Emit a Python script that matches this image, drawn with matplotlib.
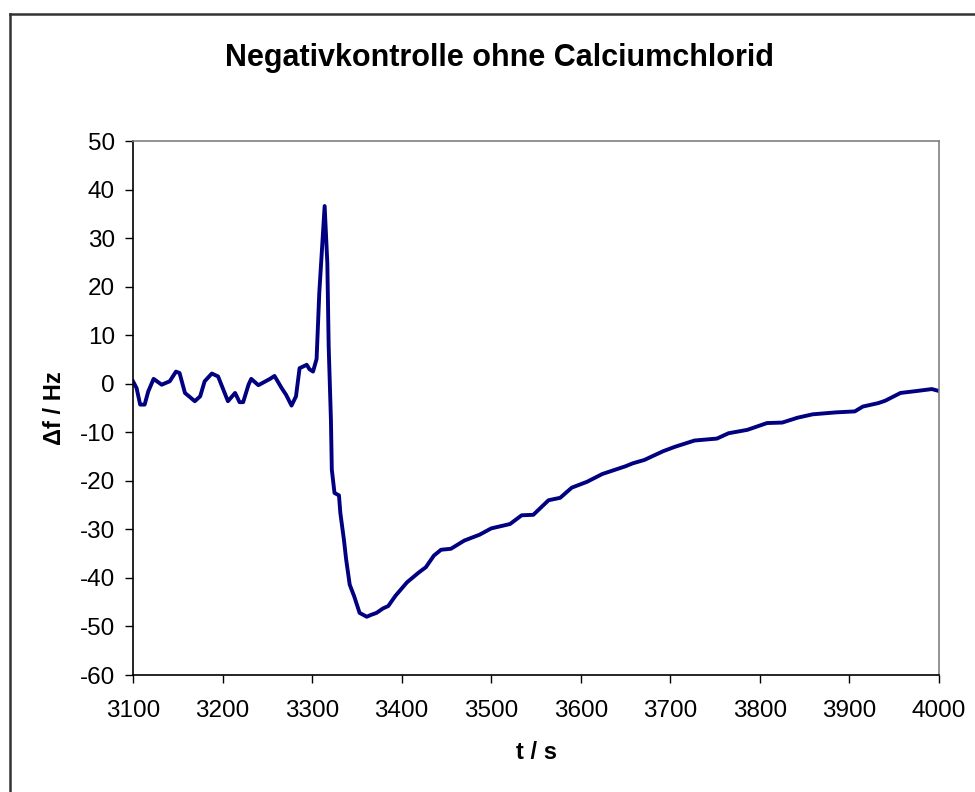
import matplotlib.pyplot as plt
from matplotlib.lines import Line2D

plt.rcParams['font.family'] = ['Liberation Sans', 'DejaVu Sans']
plt.rcParams['axes.unicode_minus'] = False

t = [3100, 3104, 3108, 3113, 3117, 3123, 3132, 3141, 3148, 3152, 3158, 3169,
     3175, 3180, 3188, 3195, 3206, 3214, 3219, 3223, 3229, 3232, 3240, 3253,
     3258, 3266, 3271, 3277, 3282, 3286, 3294, 3297, 3301, 3305, 3308, 3314,
     3317, 3318.5, 3321, 3322, 3325, 3330, 3331.5, 3335.5, 3338, 3342, 3347,
     3353, 3361, 3366, 3372, 3379, 3385, 3393, 3406, 3419, 3427, 3436, 3444,
     3455, 3470, 3487, 3500, 3521, 3534, 3547, 3564, 3577, 3590, 3607, 3624,
     3650, 3658, 3671, 3692, 3705, 3727, 3752, 3765, 3786, 3808, 3825, 3842,
     3859, 3885, 3906, 3915, 3932, 3940, 3957, 3975, 3992, 4000]
df = [0.5, -0.9, -4.3, -4.3, -1.6, 1.0, -0.2, 0.5, 2.5, 2.2, -1.9, -3.6,
      -2.6, 0.5, 2.1, 1.5, -3.6, -1.9, -3.8, -3.8, -0.2, 1.0, -0.3, 1.0,
      1.6, -0.9, -2.3, -4.5, -2.6, 3.2, 3.9, 3.0, 2.5, 5.1, 18.7, 36.6,
      24.8, 7.7, -7.4, -17.7, -22.5, -23.0, -26.6, -32.1, -36.2, -41.4, -43.8,
      -47.2, -48.0, -47.6, -47.2, -46.3, -45.8, -43.7, -40.9, -38.9, -37.8, -35.4, -34.2,
      -34.0, -32.3, -31.1, -29.8, -28.9, -27.1, -27.0, -24.0, -23.5, -21.4, -20.2, -18.6,
      -17.0, -16.4, -15.7, -13.9, -13.0, -11.7, -11.3, -10.2, -9.5, -8.1, -8.0, -7.0,
      -6.3, -5.9, -5.7, -4.7, -4.0, -3.5, -1.9, -1.5, -1.1, -1.5]

x_ticks = list(range(3100, 4001, 100))
y_ticks = list(range(-60, 51, 10))

fig = plt.figure(figsize=(9.75, 7.92), dpi=100)
ax = fig.add_axes([133 / 975, 1 - 675 / 792, (939 - 133) / 975, (675 - 141) / 792])

ax.plot(t, df, color='#000080', lw=2.8, solid_joinstyle='round')

ax.set_xlim(3100, 4000)
ax.set_ylim(-60, 50)
ax.set_xticks(x_ticks)
ax.set_yticks(y_ticks)
ax.tick_params(direction='out', length=6, width=1, labelsize=17.5)
ax.tick_params(axis='x', pad=12)
ax.tick_params(axis='y', pad=7)

for s in ['top', 'right']:
    ax.spines[s].set_color('#808080')
for s in ['left', 'bottom']:
    ax.spines[s].set_color('#000000')
for s in ax.spines.values():
    s.set_linewidth(1.2)

fig.text(500 / 975, 1 - 58 / 792, 'Negativkontrolle ohne Calciumchlorid',
         fontsize=22, fontweight='bold', ha='center', va='center')
ax.set_xlabel('t / s', fontsize=17, fontweight='bold', labelpad=14)
ax.set_ylabel('Δf / Hz', fontsize=17, fontweight='bold', labelpad=10)

# äußerer Rahmen (rechts und unten abgeschnitten)
fig.add_artist(Line2D([10 / 975, 1], [1 - 14 / 792, 1 - 14 / 792], color='#333333', lw=1.8))
fig.add_artist(Line2D([10 / 975, 10 / 975], [0, 1 - 14 / 792], color='#333333', lw=1.8))

fig.savefig('out.png', dpi=100)
